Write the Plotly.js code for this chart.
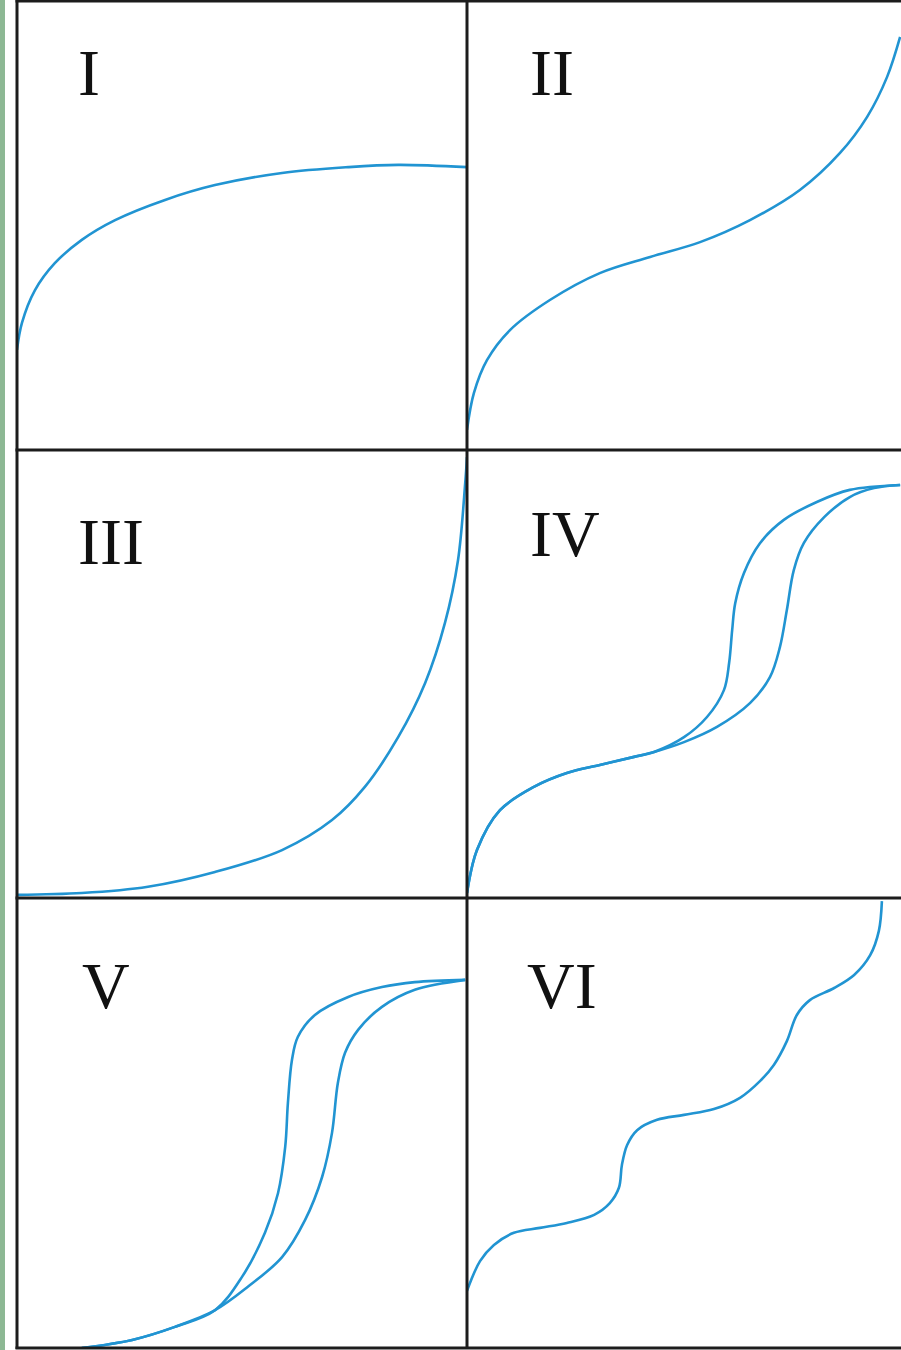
<!DOCTYPE html>
<html>
<head>
<meta charset="utf-8">
<script src="https://cdn.plot.ly/plotly-3.0.1.min.js"></script>
<style>html,body{margin:0;padding:0;background:#fff;}#chart{width:901px;height:1350px;}</style>
</head>
<body>
<div id="chart"></div>
<script>
// Panel labels
const panelLabels = ["I", "II", "III", "IV", "V", "VI"];

// Curve values (x, y in 0–100 panel units)
const curveIx = [0, 1.1, 4.0, 8.4, 14.4, 21.8, 32.9, 44.0, 58.9, 73.6, 84.7, 100];
const curveIy = [22.3, 28.3, 35.6, 41.6, 46.8, 51.2, 55.7, 59.0, 61.7, 63.0, 63.5, 63.0];

const curveIIx = [0, 1.6, 4.6, 9.9, 19.1, 30.6, 42.2, 53.7, 65.2, 76.7, 85.9, 92.2, 96.8, 99.8];
const curveIIy = [4.5, 12.7, 20.0, 26.7, 33.4, 39.4, 43.0, 46.3, 51.2, 57.9, 66.1, 74.2, 83.1, 92.0];

const curveIIIx = [0, 14.4, 29.1, 44.0, 58.9, 70.0, 77.3, 84.7, 90.7, 95.1, 98.0, 99.6, 100];
const curveIIIy = [0.7, 1.1, 2.5, 5.8, 10.7, 17.4, 24.8, 35.9, 48.0, 61.4, 75.4, 92.6, 98.4];

const curveIVAx = [0, 2.3, 7.6, 15.4, 23.0, 30.6, 38.5, 43.1, 50.0, 55.3, 59.2, 60.4, 61.1, 61.8, 63.8, 67.5, 73.0, 80.6, 88.2, 99.8];
const curveIVAy = [1.1, 10.7, 19.6, 24.8, 27.9, 29.7, 31.5, 32.6, 35.9, 40.4, 46.4, 52.5, 59.8, 65.8, 72.5, 79.2, 84.4, 88.4, 91.1, 92.2];
const curveIVBx = [0, 2.3, 7.6, 15.4, 23.0, 30.6, 38.5, 43.1, 50.0, 57.6, 65.2, 69.8, 72.1, 73.7, 75.3, 77.6, 82.3, 88.2, 93.8, 99.8];
const curveIVBy = [1.1, 10.7, 19.6, 24.8, 27.9, 29.7, 31.5, 32.6, 34.8, 38.2, 43.5, 49.3, 56.0, 64.3, 73.2, 79.2, 85.0, 89.5, 91.5, 92.2];

const curveVAx = [14.4, 25.6, 35.1, 44.0, 50.0, 55.1, 58.0, 59.6, 60.2, 61.1, 62.4, 66.2, 73.6, 81.1, 88.4, 99.6];
const curveVAy = [0, 1.8, 4.7, 8.4, 15.8, 25.6, 34.4, 44.7, 54.4, 64.0, 69.1, 74.0, 78.0, 80.2, 81.3, 81.8];
const curveVBx = [14.4, 25.6, 35.1, 44.0, 51.3, 58.9, 64.0, 67.8, 70.0, 71.3, 72.9, 75.8, 81.1, 88.4, 99.6];
const curveVBy = [0, 1.8, 4.7, 8.4, 13.6, 20.2, 28.4, 38.0, 47.8, 58.9, 65.6, 70.7, 75.8, 79.6, 81.8];

const curveVIx = [0, 3.0, 6.2, 10.8, 16.8, 23.0, 29.3, 32.9, 35.0, 35.7, 36.9, 39.2, 43.8, 50.0, 56.9, 62.9, 67.5, 70.7, 73.7, 76.0, 79.0, 84.6, 89.2, 92.9, 94.9, 95.6];
const curveVIy = [12.7, 19.3, 22.9, 25.6, 26.7, 27.8, 29.6, 32.2, 35.6, 40.7, 45.1, 48.4, 50.7, 51.8, 53.1, 55.6, 59.3, 62.9, 68.2, 74.0, 77.3, 80.0, 82.9, 87.3, 92.7, 99.3];

// ---- layout geometry (pixels) ----
const W = 901, H = 1350;
const colEdges = [17, 467, 901];
const rowEdges = [1, 450, 898, 1348];
const px = v => v / W;
const py = v => 1 - v / H;

const lineColor = '#2194d2';
const lineStyle = {color: lineColor, width: 2.6, shape: 'spline', smoothing: 1};

const panels = [
  {label: 0, col: 0, row: 0, series: [[curveIx, curveIy]]},
  {label: 1, col: 1, row: 0, series: [[curveIIx, curveIIy]]},
  {label: 2, col: 0, row: 1, series: [[curveIIIx, curveIIIy]]},
  {label: 3, col: 1, row: 1, series: [[curveIVAx, curveIVAy], [curveIVBx, curveIVBy]]},
  {label: 4, col: 0, row: 2, series: [[curveVAx, curveVAy], [curveVBx, curveVBy]]},
  {label: 5, col: 1, row: 2, series: [[curveVIx, curveVIy]]}
];

// label anchor positions (pixels: left edge, vertical centre)
const labelPos = [[76, 72], [528, 73], [76, 541], [528, 533], [80, 985], [525, 985]];

const traces = [];
const layout = {
  width: W, height: H,
  margin: {l: 0, r: 0, t: 0, b: 0, pad: 0},
  paper_bgcolor: '#ffffff',
  plot_bgcolor: 'rgba(0,0,0,0)',
  showlegend: false,
  shapes: [],
  annotations: []
};

panels.forEach((p, i) => {
  const n = i + 1;
  const xa = 'xaxis' + (n === 1 ? '' : n);
  const ya = 'yaxis' + (n === 1 ? '' : n);
  const xr = 'x' + (n === 1 ? '' : n);
  const yr = 'y' + (n === 1 ? '' : n);
  layout[xa] = {
    domain: [px(colEdges[p.col]), px(colEdges[p.col + 1])],
    range: [0, 100], visible: false, fixedrange: true, anchor: yr
  };
  layout[ya] = {
    domain: [py(rowEdges[p.row + 1]), py(rowEdges[p.row])],
    range: [0, 100], visible: false, fixedrange: true, anchor: xr
  };
  p.series.forEach(s => {
    traces.push({
      type: 'scatter', mode: 'lines', x: s[0], y: s[1],
      xaxis: xr, yaxis: yr, line: lineStyle, hoverinfo: 'skip'
    });
  });
  layout.annotations.push({
    xref: 'paper', yref: 'paper',
    x: px(labelPos[i][0]), y: py(labelPos[i][1]),
    xanchor: 'left', yanchor: 'middle',
    text: panelLabels[p.label], showarrow: false,
    font: {family: 'Liberation Serif, Times New Roman, serif', size: 66, color: '#111111'}
  });
});

// green strip on far left
layout.shapes.push({type: 'rect', xref: 'paper', yref: 'paper', x0: 0, x1: px(5), y0: 0, y1: 1,
  fillcolor: '#8db894', line: {width: 0}, layer: 'below'});

// panel frame lines
const frame = {color: '#1c1c1c', width: 3};
[colEdges[0], colEdges[1]].forEach(x => {
  layout.shapes.push({type: 'line', xref: 'paper', yref: 'paper',
    x0: px(x), x1: px(x), y0: py(rowEdges[3] + 1), y1: 1, line: frame, layer: 'above'});
});
rowEdges.forEach(y => {
  layout.shapes.push({type: 'line', xref: 'paper', yref: 'paper',
    x0: px(colEdges[0] - 1.5), x1: 1, y0: py(y), y1: py(y), line: frame, layer: 'above'});
});

Plotly.newPlot('chart', traces, layout, {staticPlot: true, displayModeBar: false});
</script>
</body>
</html>
